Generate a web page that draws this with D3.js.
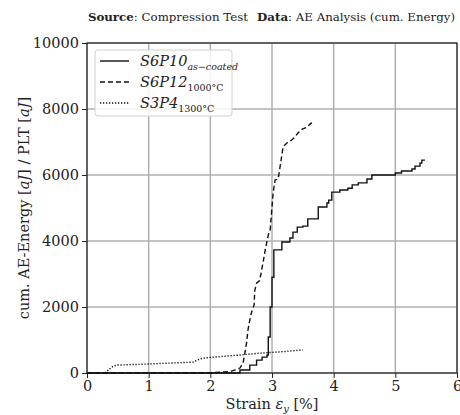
<!DOCTYPE html>
<html>
<head>
<meta charset="utf-8">
<script src="https://cdn.jsdelivr.net/npm/d3@7"></script>
<style>
  body { margin: 0; background: #fff; }
  svg { font-family: "DejaVu Serif", serif; }
</style>
</head>
<body>
<div id="chart"></div>
<script>
// S6P10 as-coated (solid, step-like)
const s6p10Strain = [0, 2.48, 2.64, 2.75, 2.84, 2.92, 2.94, 2.97, 3.0, 3.03, 3.16, 3.29, 3.34, 3.41, 3.5, 3.58, 3.75, 3.89, 3.92, 3.97, 4.1, 4.23, 4.3, 4.4, 4.54, 4.62, 5.0, 5.1, 5.27, 5.32, 5.4, 5.43, 5.48];
const s6p10Energy = [0, 90, 240, 390, 480, 545, 1090, 2000, 2900, 3730, 3970, 4090, 4270, 4420, 4450, 4670, 5030, 5150, 5240, 5480, 5545, 5600, 5700, 5760, 5880, 6000, 6060, 6120, 6180, 6270, 6360, 6450, 6450];

// S6P12 1000°C (dashed)
const s6p12Strain = [0, 2.0, 2.32, 2.48, 2.53, 2.56, 2.59, 2.61, 2.64, 2.67, 2.71, 2.72, 2.75, 2.8, 2.83, 2.86, 2.89, 2.94, 2.97, 3.0, 3.02, 3.05, 3.1, 3.13, 3.18, 3.24, 3.32, 3.37, 3.42, 3.49, 3.57, 3.63, 3.65];
const s6p12Energy = [0, 10, 40, 150, 300, 600, 940, 1300, 1600, 1850, 2060, 2500, 2720, 2800, 3100, 3400, 3730, 4180, 4330, 5030, 5480, 5850, 5880, 6240, 6850, 6970, 7060, 7150, 7270, 7390, 7450, 7570, 7570];

// S3P4 1300°C (dotted)
const s3p4Strain = [0, 0.29, 0.35, 0.42, 0.49, 0.97, 1.72, 1.8, 1.88, 2.04, 2.48, 2.8, 3.2, 3.5];
const s3p4Energy = [0, 0, 100, 200, 240, 270, 330, 400, 450, 480, 545, 600, 650, 700];

const xTicks = [0, 1, 2, 3, 4, 5, 6];
const yTicks = [0, 2000, 4000, 6000, 8000, 10000];

const width = 460, height = 415;
const margin = {top: 43, right: 3, bottom: 42, left: 87};

const svg = d3.select("#chart").append("svg")
    .attr("width", width).attr("height", height);

const x = d3.scaleLinear().domain([0, 6]).range([margin.left, width - margin.right]);
const y = d3.scaleLinear().domain([0, 10000]).range([height - margin.bottom, margin.top]);

// grid
svg.append("g").selectAll("line").data(xTicks).enter().append("line")
    .attr("x1", d => x(d)).attr("x2", d => x(d))
    .attr("y1", y(0)).attr("y2", y(10000))
    .attr("stroke", "#b0b0b0").attr("stroke-width", 1.5);
svg.append("g").selectAll("line").data(yTicks).enter().append("line")
    .attr("x1", x(0)).attr("x2", x(6))
    .attr("y1", d => y(d)).attr("y2", d => y(d))
    .attr("stroke", "#b0b0b0").attr("stroke-width", 1.5);

// axes
const xAxis = svg.append("g")
    .attr("transform", `translate(0,${y(0)})`)
    .call(d3.axisBottom(x).tickValues(xTicks).tickFormat(d3.format("d")).tickSize(5).tickPadding(3));
const yAxis = svg.append("g")
    .attr("transform", `translate(${x(0)},0)`)
    .call(d3.axisLeft(y).tickValues(yTicks).tickFormat(d3.format("d")).tickSize(5).tickPadding(3));
[xAxis, yAxis].forEach(a => {
    a.select(".domain").remove();
    a.selectAll("text").attr("font-family", "DejaVu Serif").attr("font-size", 14.5).attr("fill", "#222");
    a.selectAll("line").attr("stroke", "#222");
});

// frame
svg.append("rect")
    .attr("x", x(0)).attr("y", y(10000))
    .attr("width", x(6) - x(0)).attr("height", y(0) - y(10000))
    .attr("fill", "none").attr("stroke", "#222").attr("stroke-width", 1.2);

// curves
const series = [
    {strain: s6p10Strain, energy: s6p10Energy, dash: null, curve: d3.curveStepAfter},
    {strain: s6p12Strain, energy: s6p12Energy, dash: "5,3", curve: d3.curveLinear},
    {strain: s3p4Strain, energy: s3p4Energy, dash: "1.3,1.7", curve: d3.curveLinear}
];

series.forEach(s => {
    const pts = s.strain.map((v, i) => [v, s.energy[i]]);
    const line = d3.line().x(d => x(d[0])).y(d => y(d[1])).curve(s.curve);
    svg.append("path")
        .attr("d", line(pts))
        .attr("fill", "none")
        .attr("stroke", "#111")
        .attr("stroke-width", 1.4)
        .attr("stroke-dasharray", s.dash);
});

// legend
const legend = svg.append("g");
legend.append("rect")
    .attr("x", 95).attr("y", 50).attr("width", 137).attr("height", 66)
    .attr("rx", 3).attr("fill", "#fff").attr("fill-opacity", 0.85)
    .attr("stroke", "#d0d0d0");

const legendItems = [
    {name: "S6P10", sub: "as\u2212coated", subItalic: true, dash: null},
    {name: "S6P12", sub: "1000\u00b0C", subItalic: false, dash: "5,3"},
    {name: "S3P4", sub: "1300\u00b0C", subItalic: false, dash: "1.3,1.7"}
];

legendItems.forEach((d, i) => {
    const yy = 61 + i * 21;
    legend.append("line")
        .attr("x1", 100).attr("x2", 129).attr("y1", yy).attr("y2", yy)
        .attr("stroke", "#111").attr("stroke-width", 1.4)
        .attr("stroke-dasharray", d.dash);
    const t = legend.append("text")
        .attr("x", 140).attr("y", yy + 5)
        .attr("font-size", 14.5).attr("fill", "#222");
    t.append("tspan").attr("font-style", "italic").text(d.name);
    t.append("tspan").attr("font-size", 9.5).attr("dy", 4)
        .attr("font-style", d.subItalic ? "italic" : "normal").text(d.sub);
});

// title
const title = svg.append("text")
    .attr("x", 455).attr("y", 21)
    .attr("text-anchor", "end").attr("font-size", 11.8).attr("fill", "#222");
title.append("tspan").attr("font-weight", "bold").text("Source");
title.append("tspan").text(": Compression Test");
title.append("tspan").attr("dx", 9).attr("font-weight", "bold").text("Data");
title.append("tspan").text(": AE Analysis (cum. Energy)");

// axis labels
const xl = svg.append("text")
    .attr("x", (x(0) + x(6)) / 2).attr("y", 409)
    .attr("text-anchor", "middle").attr("font-size", 14.5).attr("fill", "#222");
xl.append("tspan").text("Strain ");
xl.append("tspan").attr("font-style", "italic").text("\u03b5");
xl.append("tspan").attr("font-style", "italic").attr("font-size", 10).attr("dy", 3).text("y");
xl.append("tspan").attr("dy", -3).text(" [%]");

const yl = svg.append("text")
    .attr("transform", `translate(29,${(y(0) + y(10000)) / 2}) rotate(-90)`)
    .attr("text-anchor", "middle").attr("font-size", 14.5).attr("fill", "#222");
yl.append("tspan").text("cum. AE-Energy [");
yl.append("tspan").attr("font-style", "italic").text("aJ");
yl.append("tspan").text("] / PLT [");
yl.append("tspan").attr("font-style", "italic").text("aJ");
yl.append("tspan").text("]");
</script>
</body>
</html>
